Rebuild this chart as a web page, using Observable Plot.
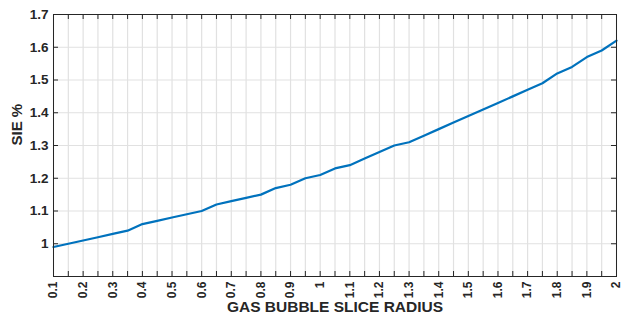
<!DOCTYPE html>
<html>
<head>
<meta charset="utf-8">
<script src="https://cdn.jsdelivr.net/npm/d3@7"></script>
<script src="https://cdn.jsdelivr.net/npm/@observablehq/plot@0.6"></script>
<style>
  body { margin: 0; background: #fff; }
  #chart svg { display: block; }
</style>
</head>
<body>
<div id="chart"></div>
<script>
// Data
const radius = [0.10,0.15,0.20,0.25,0.30,0.35,0.40,0.45,0.50,0.55,0.60,0.65,0.70,0.75,0.80,0.85,0.90,0.95,1.00,
                1.05,1.10,1.15,1.20,1.25,1.30,1.35,1.40,1.45,1.50,1.55,1.60,1.65,1.70,1.75,1.80,1.85,1.90,1.95,2.00];
const sie    = [0.99,1.00,1.01,1.02,1.03,1.04,1.06,1.07,1.08,1.09,1.10,1.12,1.13,1.14,1.15,1.17,1.18,1.20,1.21,
                1.23,1.24,1.26,1.28,1.30,1.31,1.33,1.35,1.37,1.39,1.41,1.43,1.45,1.47,1.49,1.52,1.54,1.57,1.59,1.62];
const xTickLabels = [0.1,0.2,0.3,0.4,0.5,0.6,0.7,0.8,0.9,1,1.1,1.2,1.3,1.4,1.5,1.6,1.7,1.8,1.9,2];
const xMinorTicks = [0.1,0.15,0.2,0.25,0.3,0.35,0.4,0.45,0.5,0.55,0.6,0.65,0.7,0.75,0.8,0.85,0.9,0.95,1,
                     1.05,1.1,1.15,1.2,1.25,1.3,1.35,1.4,1.45,1.5,1.55,1.6,1.65,1.7,1.75,1.8,1.85,1.9,1.95,2];
const yTickLabels = [1,1.1,1.2,1.3,1.4,1.5,1.6,1.7];
const yTicks = [0.9,1,1.1,1.2,1.3,1.4,1.5,1.6,1.7];
const xTitle = "GAS BUBBLE SLICE RADIUS";
const yTitle = "SIE %";

const data = radius.map((r, i) => ({radius: r, sie: sie[i]}));

const W = 622, H = 320;
const mL = 53, mR = 6, mT = 14, mB = 44;
const innerW = W - mL - mR, innerH = H - mT - mB;
const tickLen = 5;
const axisColor = "#262626";
const gridColor = "#e1e1e1";
const fmt = d => String(d);

const chart = Plot.plot({
  width: W,
  height: H,
  marginLeft: mL,
  marginRight: mR,
  marginTop: mT,
  marginBottom: mB,
  style: {fontFamily: "'Liberation Sans', Arial, sans-serif", background: "#fff"},
  x: {domain: [0.1, 2]},
  y: {domain: [0.9, 1.7]},
  marks: [
    Plot.ruleX(xMinorTicks, {stroke: gridColor, strokeWidth: 1.2}),
    Plot.ruleY(yTickLabels, {stroke: gridColor, strokeWidth: 1.2}),
    Plot.line(data, {x: "radius", y: "sie", stroke: "#0072BD", strokeWidth: 2.2}),
    Plot.frame({stroke: axisColor, strokeWidth: 1}),
    // inward ticks, all four sides
    Plot.ruleX(xMinorTicks, {stroke: axisColor, insetTop: innerH - tickLen}),
    Plot.ruleX(xMinorTicks, {stroke: axisColor, insetBottom: innerH - tickLen}),
    Plot.ruleY(yTicks, {stroke: axisColor, insetRight: innerW - tickLen}),
    Plot.ruleY(yTicks, {stroke: axisColor, insetLeft: innerW - tickLen}),
    Plot.axisX(xTickLabels, {
      anchor: "bottom", tickSize: 0, tickPadding: 5, tickRotate: -90, tickFormat: fmt,
      fontSize: 12, fontWeight: "bold", fill: "#262626", label: null
    }),
    Plot.axisY(yTickLabels, {
      anchor: "left", tickSize: 0, tickPadding: 5, tickFormat: fmt,
      fontSize: 13.5, fontWeight: "bold", fill: "#262626", label: null
    }),
    Plot.text([xTitle], {
      frameAnchor: "bottom", dy: 35, text: d => d,
      fontSize: 15.5, fontWeight: "bold", fill: "#262626"
    }),
    Plot.text([yTitle], {
      frameAnchor: "left", dx: -36, rotate: -90, text: d => d,
      fontSize: 15, fontWeight: "bold", fill: "#262626"
    })
  ]
});

document.getElementById("chart").appendChild(chart);
</script>
</body>
</html>
